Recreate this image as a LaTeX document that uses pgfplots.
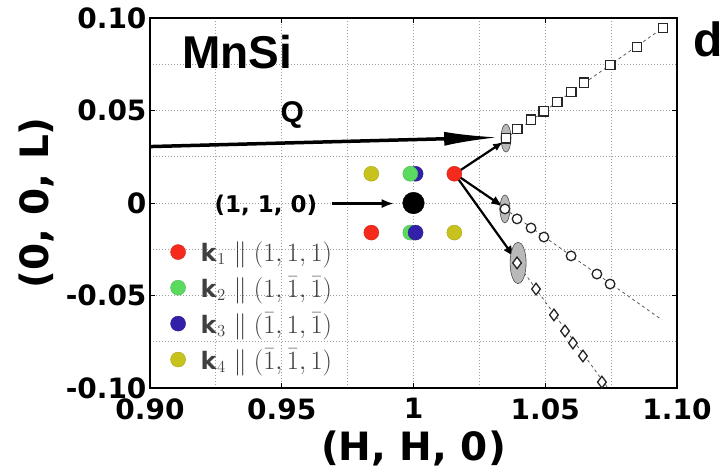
\documentclass[border=0pt]{standalone}
\usepackage{fix-cm}
\usepackage{graphicx}
\usepackage{pgfplots}
\pgfplotsset{compat=1.18}
\usepackage{fontspec}
\setmainfont{DejaVu Sans}
\newfontfamily\arialfont{Liberation Sans}
\usetikzlibrary{arrows.meta}

\definecolor{kred}{HTML}{F52A1C}
\definecolor{kgreen}{HTML}{5ADB5F}
\definecolor{kblue}{HTML}{3320A8}
\definecolor{kyellow}{HTML}{C8C21E}
\newcommand{\kent}[2]{\textbf{k}$_{#1}$\hspace{8pt}\scalebox{1.1}{$\|$}\hspace{7pt}\scalebox{1.1}{$#2$}}

\begin{document}
\begin{tikzpicture}
\begin{axis}[
  scale only axis, width=527pt, height=370pt,
  xmin=0.9, xmax=1.1, ymin=-0.1, ymax=0.1,
  clip=false,
  xtick={0.9,0.95,1,1.05,1.1}, xticklabels={0.90,0.95,1,1.05,1.10},
  ytick={-0.1,-0.05,0,0.05,0.1}, yticklabels={-0.10,-0.05,0,0.05,0.10},
  minor xtick={0.925,0.975,1.025,1.075}, minor ytick={-0.075,-0.025,0.025,0.075},
  grid=both,
  major grid style={dash pattern=on 1pt off 2pt, gray!75, line width=0.8pt},
  minor grid style={dash pattern=on 1pt off 2pt, gray!75, line width=0.8pt},
  tick align=inside, major tick length=5pt, minor tick length=0pt,
  axis line style={line width=2.5pt},
  tick style={black, line width=1pt},
  ticklabel style={font=\bfseries\fontsize{28}{30}\selectfont},
  xticklabel style={yshift=-7pt},
  xlabel={(H, H, 0)}, ylabel={(0, 0, L)},
  label style={font=\bfseries\fontsize{39}{40}\selectfont},
  xlabel style={yshift=-4pt},
  ylabel style={yshift=5pt},
  legend style={at={(axis cs:0.9066,-0.0185)}, anchor=north west, draw=none, fill=none,
    font=\fontsize{24}{26}\selectfont, text=black!75, row sep=10pt,
    nodes={font=\fontsize{24}{26}\selectfont},
    /tikz/every odd column/.append style={column sep=13pt}},
  legend cell align=left,
]
% coloured satellite positions (legend series)
\addplot[only marks, mark=*, mark size=7.5pt, color=kred, mark options={draw=kred!85!black, line width=0.4pt}]
  coordinates {(1.0155,0.0158) (0.9840,-0.0160)};
\addlegendentry{\kent{1}{(1,1,1)}}
\addplot[only marks, mark=*, mark size=7.5pt, color=kgreen, mark options={draw=kgreen!85!black, line width=0.4pt}]
  coordinates {(0.9988,-0.0160)};
\addlegendentry{\kent{2}{(1,\bar{1},\bar{1})}}
\addplot[only marks, mark=*, mark size=7.5pt, color=kblue, mark options={draw=kblue!85!black, line width=0.4pt}]
  coordinates {(1.0008,0.0158) (1.0008,-0.0160)};
\addlegendentry{\kent{3}{(\bar{1},1,\bar{1})}}
\addplot[only marks, mark=*, mark size=7.5pt, color=kyellow, mark options={draw=kyellow!85!black, line width=0.4pt}]
  coordinates {(0.9840,0.0158) (1.0155,-0.0160)};
\addlegendentry{\kent{4}{(\bar{1},\bar{1},1)}}
\addplot[forget plot, only marks, mark=*, mark size=7.5pt, color=kgreen, mark options={draw=kgreen!85!black, line width=0.4pt}]
  coordinates {(0.9988,0.0158)};
% (1,1,0) Bragg peak
\addplot[forget plot, only marks, mark=*, mark size=10.8pt, color=black] coordinates {(1.0,0.0)};

% dashed guide lines
\addplot[forget plot, gray!70!black, line width=0.8pt, dash pattern=on 3pt off 3pt] coordinates {(1.035,0.035) (1.095,0.095)};
\addplot[forget plot, gray!70!black, line width=0.8pt, dash pattern=on 3pt off 3pt] coordinates {(1.0347,-0.0032) (1.0943,-0.0632)};
\addplot[forget plot, gray!70!black, line width=0.8pt, dash pattern=on 3pt off 3pt] coordinates {(1.0393,-0.0324) (1.0738,-0.1)};

% ellipses
\addplot[forget plot, only marks, mark=*, mark size=5pt, mark options={fill=gray!55, draw=gray!60!black, line width=0.6pt, yscale=2.8}]
  coordinates {(1.0351,0.0351) (1.0347,-0.0032)};
\addplot[forget plot, only marks, mark=*, mark size=8pt, mark options={fill=gray!55, draw=gray!60!black, line width=0.6pt, yscale=2.6}]
  coordinates {(1.0397,-0.0324)};

% squares
\addplot[forget plot, only marks, mark=square*, mark size=4.8pt, mark options={fill=white, draw=black!85, line width=1.3pt}]
  coordinates {(1.0351,0.0351) (1.0393,0.0400) (1.0446,0.0449) (1.0495,0.0497) (1.0545,0.0546)
               (1.0598,0.0600) (1.0647,0.0649) (1.0746,0.0746) (1.0848,0.0843) (1.0947,0.0946)};
% circles
\addplot[forget plot, only marks, mark=*, mark size=4.8pt, mark options={fill=white, draw=black!85, line width=1.3pt}]
  coordinates {(1.0347,-0.0032) (1.0393,-0.0086) (1.0446,-0.0135) (1.0495,-0.0184)
               (1.0598,-0.0286) (1.0696,-0.0384) (1.0746,-0.0438)};
% diamonds
\addplot[forget plot, only marks, mark=diamond*, mark size=5.8pt, mark options={fill=white, draw=black!85, line width=1.3pt}]
  coordinates {(1.0393,-0.0324) (1.0465,-0.0465) (1.0533,-0.0605) (1.0575,-0.0692)
               (1.0605,-0.0757) (1.0643,-0.0827) (1.0715,-0.0968)};

% arrows
\addplot[forget plot, black, line width=3.5pt, -{Latex[length=55pt,width=14pt]}] coordinates {(0.9,0.0305) (1.0325,0.0355)};
\addplot[forget plot, black, line width=2.2pt, -{Latex[length=12pt,width=9pt]}] coordinates {(0.9690,-0.0003) (0.9925,-0.0003)};
\addplot[forget plot, black, line width=2.2pt, -{Latex[length=10pt,width=8pt]}] coordinates {(1.0165,0.0165) (1.0340,0.0330)};
\addplot[forget plot, black, line width=2.2pt, -{Latex[length=12pt,width=9pt]}] coordinates {(1.0165,0.0150) (1.0340,-0.0020)};
\addplot[forget plot, black, line width=2.2pt, -{Latex[length=12pt,width=9pt]}] coordinates {(1.0162,0.0145) (1.0383,-0.0295)};

% text annotations
\node[font=\arialfont\bfseries\fontsize{46}{48}\selectfont] at (axis cs:0.933,0.0816) {MnSi};
\node[font=\arialfont\bfseries\fontsize{30}{32}\selectfont] at (axis cs:0.954,0.0476) {Q};
\node[font=\bfseries\fontsize{23}{26}\selectfont] at (axis cs:0.944,-0.0015) {(1, 1, 0)};
\node[font=\arialfont\bfseries\fontsize{48}{50}\selectfont] at (axis cs:1.1118,0.0886) {d};
\coordinate (sw) at (rel axis cs:0,0);
\end{axis}
\pgfresetboundingbox
\path (sw) ++(-150pt,-81pt) rectangle ++(725pt,469pt);
\end{tikzpicture}
\end{document}
